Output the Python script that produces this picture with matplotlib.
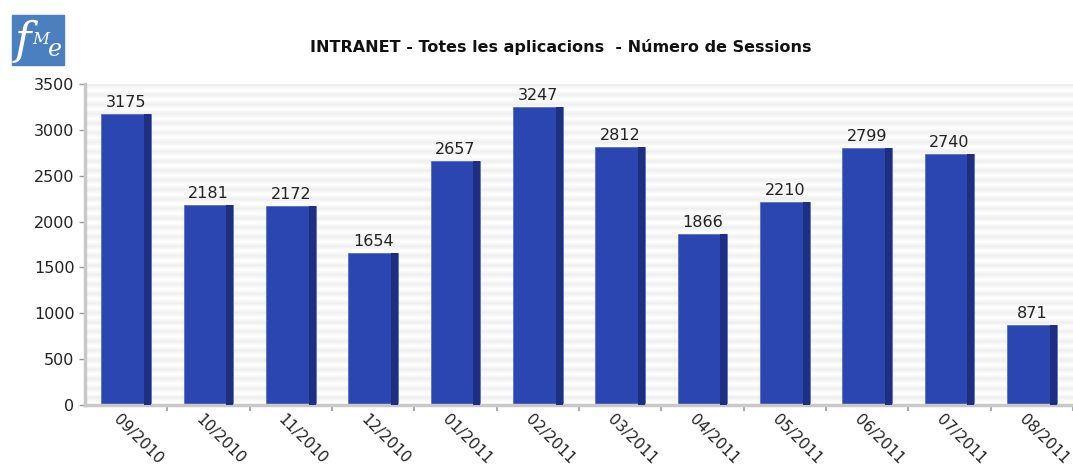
import matplotlib
matplotlib.use("Agg")
import matplotlib.pyplot as plt
import matplotlib.transforms as mtransforms
import numpy as np
from matplotlib.patches import Rectangle

# dades
months = ['09/2010', '10/2010', '11/2010', '12/2010', '01/2011', '02/2011',
          '03/2011', '04/2011', '05/2011', '06/2011', '07/2011', '08/2011']
sessions = [3175, 2181, 2172, 1654, 2657, 3247, 2812, 1866, 2210, 2799, 2740, 871]
y_ticks = [0, 500, 1000, 1500, 2000, 2500, 3000, 3500]

x = np.arange(len(months))

fig = plt.figure(figsize=(10.73, 4.69), dpi=100)
ax = fig.add_axes([85/1073, 1-405/469, 988/1073, 321/469])

# fons amb ratlles
stripes = np.tile([[0.935], [1.0]], (34, 1))
ax.imshow(stripes, cmap='gray', vmin=0, vmax=1, aspect='auto',
          extent=[0, 1, 0, 1], transform=ax.transAxes, zorder=0,
          interpolation='bilinear')

# barres amb efecte 3D
bw = 0.6
side = 0.085
ax.bar(x, sessions, width=bw, color='#2c46b1', edgecolor='#5a6fc4', linewidth=0.6, zorder=2)
ax.bar(x + bw/2 - side/2, sessions, width=side, color='#1f2f80', zorder=3)

for xi, v in zip(x, sessions):
    ax.text(xi, v + 45, str(v), ha='center', va='bottom', fontsize=11.5, color='#222222')

ax.set_xlim(-0.5, len(months) - 0.5)
ax.set_ylim(0, 3500)
ax.set_yticks(y_ticks)
ax.tick_params(axis='y', labelsize=11.5, color='#999999', length=4, width=1, labelcolor='#222222')

ax.set_xticks(x)
ax.set_xticklabels(months, rotation=-45, ha='left', va='top', rotation_mode='anchor',
                   fontsize=11, color='#222222')
ax.tick_params(axis='x', length=0, pad=5)
ax.set_xticks(np.arange(len(months)) + 0.5, minor=True)
ax.tick_params(axis='x', which='minor', length=4, color='#999999', width=1.2)
offset = mtransforms.ScaledTranslation(-5/100, 0, fig.dpi_scale_trans)
for lab in ax.get_xticklabels():
    lab.set_transform(lab.get_transform() + offset)

for s in ['top', 'right']:
    ax.spines[s].set_visible(False)
for s in ['left', 'bottom']:
    ax.spines[s].set_color('#c8c8c8')
    ax.spines[s].set_linewidth(2.5)

# titol
fig.text(561/1073, 1-47/469, 'INTRANET - Totes les aplicacions  - Número de Sessions',
         ha='center', va='center', fontsize=11.5, fontweight='bold', color='#111111')

# logo
fig.patches.append(Rectangle((12/1073, 1-65/469), 52/1073, 50/469,
                             transform=fig.transFigure, color='#4a7fc0', zorder=5))
fig.text(15/1073, 1-41/469, 'f', transform=fig.transFigure, color='white', fontsize=32,
         family='DejaVu Serif', style='italic', ha='left', va='center', zorder=6)
fig.text(32/1073, 1-40/469, 'M', transform=fig.transFigure, color='white', fontsize=12,
         family='DejaVu Serif', style='italic', ha='left', va='center', zorder=6)
fig.text(48/1073, 1-50/469, 'e', transform=fig.transFigure, color='white', fontsize=17,
         family='DejaVu Serif', style='italic', ha='left', va='center', zorder=6)

fig.savefig('out.png', dpi=100)
